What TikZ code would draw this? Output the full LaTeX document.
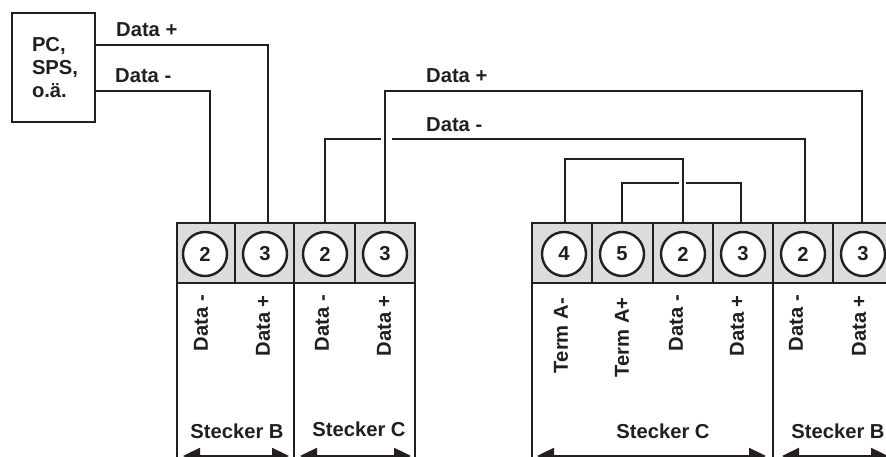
\documentclass[tikz,border=0pt]{standalone}
\usepackage{fontspec}
\setmainfont{Liberation Sans}
\usepackage{tikz}
\usetikzlibrary{arrows.meta}
\definecolor{inkblack}{HTML}{231F20}
\definecolor{cellgray}{HTML}{DCDCDC}

\begin{document}
\begin{tikzpicture}
            [
            x=1pt,y=-1pt,
            label/.style={font=\fontsize{20.2}{23}\selectfont\bfseries,text=inkblack,inner sep=0pt},
            pcbox/.style={label,draw=inkblack,line width=2.4pt,minimum width=83pt,minimum height=109pt,text width=47pt,inner xsep=18pt,align=left},
            cell/.style={fill=cellgray,draw=inkblack,line width=2.6pt},
            housing/.style={draw=inkblack,line width=2.6pt},
            pin/.style={label,circle,draw=inkblack,fill=white,line width=2.4pt,minimum size=44pt},
            wire/.style={draw=inkblack,line width=2.4pt},
            signal/.style={label,rotate=90,anchor=east},
            width/.style={draw=inkblack,line width=2.4pt,{Triangle[length=17pt,width=16pt]}-{Triangle[length=17pt,width=16pt]}}
            ]
        \clip (0,0) rectangle (886,457);

        \node[pcbox] (pc) at (53.5,67.5) {\hspace*{2pt}PC,\\\hspace*{2pt}SPS,\\\hspace*{2pt}o.ä.};

        \draw[cell] (177,223) rectangle (235,283);
        \draw[cell] (235,223) rectangle (294,283);
        \draw[cell] (294,223) rectangle (355,283);
        \draw[cell] (355,223) rectangle (415,283);
        \draw[cell] (532,223) rectangle (592,283);
        \draw[cell] (592,223) rectangle (653,283);
        \draw[cell] (653,223) rectangle (713,283);
        \draw[cell] (713,223) rectangle (773,283);
        \draw[cell] (773,223) rectangle (833,283);
        \draw[cell] (833,223) rectangle (890,283);

        \draw[housing] (177,283) -- (177,460);
        \draw[housing] (294,283) -- (294,460);
        \draw[housing] (415,283) -- (415,460);
        \draw[housing] (532,283) -- (532,460);
        \draw[housing] (773,283) -- (773,460);

        \node[pin] (b2) at (205,254) {2};
        \node[pin] (b3) at (265,254) {3};
        \node[pin] (c2) at (325,254) {2};
        \node[pin] (c3) at (385,254) {3};
        \node[pin] (t4) at (564,254) {4};
        \node[pin] (t5) at (622,254) {5};
        \node[pin] (d2) at (683,254) {2};
        \node[pin] (d3) at (743,254) {3};
        \node[pin] (e2) at (803,254) {2};
        \node[pin] (e3) at (863,254) {3};

        \coordinate (pcplus) at (95,45);
        \coordinate (pcminus) at (95,91);
        \coordinate (b2top) at (210,223);
        \coordinate (b3top) at (268,223);
        \coordinate (c2top) at (325,223);
        \coordinate (c3top) at (385,223);
        \coordinate (t4top) at (565,223);
        \coordinate (t5top) at (622,223);
        \coordinate (d2top) at (683,223);
        \coordinate (d3top) at (741,223);
        \coordinate (e2top) at (805,223);
        \coordinate (e3top) at (862,223);
        \coordinate (gapminusl) at (381,139);
        \coordinate (gapminusr) at (392,139);
        \coordinate (gapterml) at (679,183);
        \coordinate (gaptermr) at (686,183);

        \draw[wire] (pcplus) -| (b3top);
        \draw[wire] (pcminus) -| (b2top);
        \draw[wire] (c3top) |- (385,91) -| (e3top);
        \draw[wire] (c2top) |- (gapminusl);
        \draw[wire] (gapminusr) -| (e2top);
        \draw[wire] (t4top) |- (565,159) -| (d2top);
        \draw[wire] (t5top) |- (gapterml);
        \draw[wire] (gaptermr) -| (d3top);

        \node[label,anchor=west] (pluspc) at (116,30) {Data +};
        \node[label,anchor=west] (minuspc) at (115,76) {Data -};
        \node[label,anchor=west] (pluslong) at (426,76) {Data +};
        \node[label,anchor=west] (minuslong) at (426,125) {Data -};

        \node[signal] (sb2) at (201,295) {Data -};
        \node[signal] (sb3) at (263,295) {Data +};
        \node[signal] (sc2) at (322,295) {Data -};
        \node[signal] (sc3) at (384,295) {Data +};
        \node[signal] (st4) at (561,298) {Term A-};
        \node[signal] (st5) at (622,297) {Term A+};
        \node[signal] (sd2) at (676,295) {Data -};
        \node[signal] (sd3) at (737,295) {Data +};
        \node[signal] (se2) at (796,295) {Data -};
        \node[signal] (se3) at (859,295) {Data +};

        \node[label] (steckerb) at (237,431) {Stecker B};
        \node[label] (steckerc) at (359,429) {Stecker C};
        \node[label] (steckerd) at (663,431) {Stecker C};
        \node[label] (steckere) at (838,431) {Stecker B};

        \coordinate (bl) at (183,456);
        \coordinate (br) at (289,456);
        \coordinate (cl) at (300,456);
        \coordinate (cr) at (411,456);
        \coordinate (dl) at (537,456);
        \coordinate (dr) at (766,456);
        \coordinate (el) at (782,456);
        \coordinate (er) at (888,456);
        \draw[width] (bl) -- (br);
        \draw[width] (cl) -- (cr);
        \draw[width] (dl) -- (dr);
        \draw[width] (el) -- (er);
        \end{tikzpicture}
\end{document}
